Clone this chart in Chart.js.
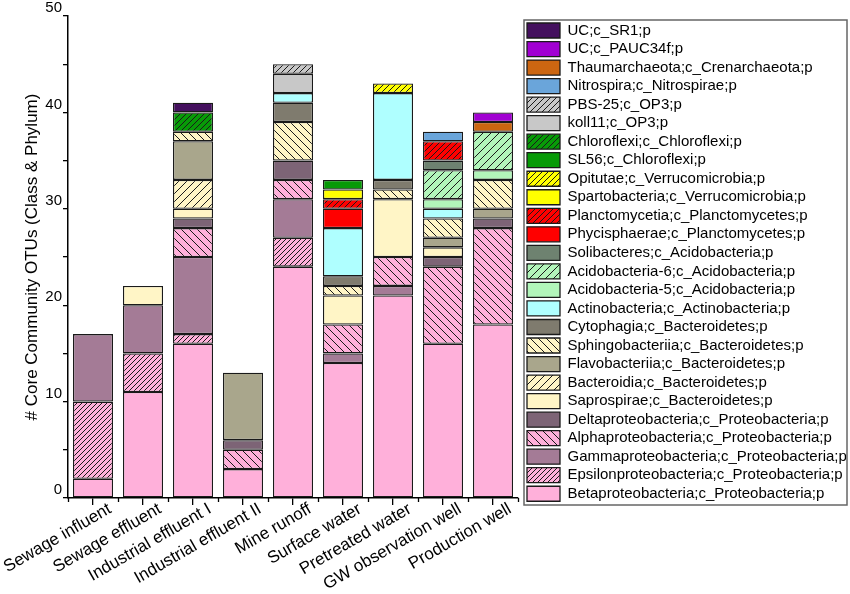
<!DOCTYPE html>
<html><head><meta charset="utf-8">
<script src="https://cdn.jsdelivr.net/npm/chart.js@4.4.1/dist/chart.umd.min.js"></script>
<style>html,body{margin:0;padding:0;background:#fff;} #wrap{width:850px;height:594px;}</style>
</head><body><div id="wrap"><canvas id="c" width="850" height="594"></canvas></div>
<script>
// ---- DATA ----
const categories = ['Sewage influent','Sewage effluent','Industrial effluent I','Industrial effluent II','Mine runoff','Surface water','Pretreated water','GW observation well','Production well'];
const yTickLabels = [0, 10, 20, 30, 40, 50];

const betaproteobacteria  = [2, 11, 16, 3, 24, 14, 21, 16, 18];
const epsilonproteobacteria = [8, 4, 1, 0, 3, 0, 0, 0, 0];
const gammaproteobacteria = [7, 5, 8, 0, 4, 1, 1, 0, 0];
const alphaproteobacteria = [0, 0, 3, 2, 2, 3, 3, 8, 10];
const deltaproteobacteria = [0, 0, 1, 1, 2, 0, 0, 1, 1];
const saprospirae   = [0, 2, 1, 0, 0, 3, 6, 1, 0];
const bacteroidia   = [0, 0, 3, 0, 0, 0, 0, 0, 0];
const flavobacteriia = [0, 0, 4, 7, 0, 0, 0, 1, 1];
const sphingobacteriia = [0, 0, 1, 0, 4, 1, 1, 2, 3];
const cytophagia    = [0, 0, 0, 0, 2, 1, 1, 0, 0];
const actinobacteria = [0, 0, 0, 0, 1, 5, 9, 1, 0];
const acidobacteria5 = [0, 0, 0, 0, 0, 0, 0, 1, 1];
const acidobacteria6 = [0, 0, 0, 0, 0, 0, 0, 3, 4];
const solibacteres  = [0, 0, 0, 0, 0, 0, 0, 1, 0];
const phycisphaerae = [0, 0, 0, 0, 0, 2, 0, 0, 0];
const planctomycetia = [0, 0, 0, 0, 0, 1, 0, 2, 0];
const spartobacteria = [0, 0, 0, 0, 0, 1, 0, 0, 0];
const opitutae      = [0, 0, 0, 0, 0, 0, 1, 0, 0];
const sl56          = [0, 0, 0, 0, 0, 1, 0, 0, 0];
const chloroflexi   = [0, 0, 2, 0, 0, 0, 0, 0, 0];
const koll11        = [0, 0, 0, 0, 2, 0, 0, 0, 0];
const pbs25         = [0, 0, 0, 0, 1, 0, 0, 0, 0];
const nitrospira    = [0, 0, 0, 0, 0, 0, 0, 1, 0];
const thaumarchaeota = [0, 0, 0, 0, 0, 0, 0, 0, 1];
const pauc34f       = [0, 0, 0, 0, 0, 0, 0, 0, 1];
const sr1           = [0, 0, 1, 0, 0, 0, 0, 0, 0];

// bottom -> top stacking order
const seriesLabels = [
 'Betaproteobacteria;c_Proteobacteria;p','Epsilonproteobacteria;c_Proteobacteria;p','Gammaproteobacteria;c_Proteobacteria;p',
 'Alphaproteobacteria;c_Proteobacteria;p','Deltaproteobacteria;c_Proteobacteria;p','Saprospirae;c_Bacteroidetes;p',
 'Bacteroidia;c_Bacteroidetes;p','Flavobacteriia;c_Bacteroidetes;p','Sphingobacteriia;c_Bacteroidetes;p',
 'Cytophagia;c_Bacteroidetes;p','Actinobacteria;c_Actinobacteria;p','Acidobacteria-5;c_Acidobacteria;p',
 'Acidobacteria-6;c_Acidobacteria;p','Solibacteres;c_Acidobacteria;p','Phycisphaerae;c_Planctomycetes;p',
 'Planctomycetia;c_Planctomycetes;p','Spartobacteria;c_Verrucomicrobia;p','Opitutae;c_Verrucomicrobia;p',
 'SL56;c_Chloroflexi;p','Chloroflexi;c_Chloroflexi;p','koll11;c_OP3;p','PBS-25;c_OP3;p',
 'Nitrospira;c_Nitrospirae;p','Thaumarchaeota;c_Crenarchaeota;p','UC;c_PAUC34f;p','UC;c_SR1;p'];
const seriesValues = [betaproteobacteria, epsilonproteobacteria, gammaproteobacteria, alphaproteobacteria,
 deltaproteobacteria, saprospirae, bacteroidia, flavobacteriia, sphingobacteriia, cytophagia, actinobacteria,
 acidobacteria5, acidobacteria6, solibacteres, phycisphaerae, planctomycetia, spartobacteria, opitutae, sl56,
 chloroflexi, koll11, pbs25, nitrospira, thaumarchaeota, pauc34f, sr1];

// ---- STYLE ----
const PINK='#FFB0DA', CREAM='#FFF5C6', LGREEN='#B2F5BA', RED='#FF0000', YEL='#FFFF00', GRN='#079A07', GREY='#C8C8C8';
const seriesStyle = [
 {c:PINK}, {c:PINK,h:'/',g:5}, {c:'#A47B96'}, {c:PINK,h:'\\',g:8}, {c:'#7D6476'}, {c:CREAM},
 {c:CREAM,h:'/',g:8}, {c:'#A9A68C'}, {c:CREAM,h:'\\',g:8}, {c:'#7F7B6E'}, {c:'#AFFFFF'}, {c:LGREEN},
 {c:LGREEN,h:'/',g:8}, {c:'#6E8270'}, {c:RED}, {c:RED,h:'/',g:6}, {c:YEL}, {c:YEL,h:'/',g:6},
 {c:GRN}, {c:GRN,h:'/',g:6}, {c:GREY}, {c:GREY,h:'/',g:6}, {c:'#6AA5DA'}, {c:'#CC6611'}, {c:'#A100D2'}, {c:'#44105E'}];

function hatch(bg, dir, gap){
  const cv = document.createElement('canvas'); cv.width = gap; cv.height = gap;
  const x = cv.getContext('2d');
  x.fillStyle = bg; x.fillRect(0,0,gap,gap);
  x.strokeStyle = '#1a1a1a'; x.lineWidth = 1;
  x.beginPath();
  if (dir === '/') {
    x.moveTo(-1, gap+1); x.lineTo(gap+1, -1);
    x.moveTo(-1, 1); x.lineTo(1, -1);
    x.moveTo(gap-1, gap+1); x.lineTo(gap+1, gap-1);
  } else {
    x.moveTo(-1, -1); x.lineTo(gap+1, gap+1);
    x.moveTo(gap-1, -1); x.lineTo(gap+1, 1);
    x.moveTo(-1, gap-1); x.lineTo(1, gap+1);
  }
  x.stroke();
  return x.createPattern(cv, 'repeat');
}

const FONT = 'Liberation Sans, Arial, sans-serif';
const datasets = seriesLabels.map((lab, i) => ({
  label: lab,
  data: seriesValues[i].map(v => v === 0 ? null : v),
  backgroundColor: seriesStyle[i].h ? hatch(seriesStyle[i].c, seriesStyle[i].h, seriesStyle[i].g) : seriesStyle[i].c,
  borderColor: '#1a1a1a',
  borderWidth: 1.3,
  borderSkipped: false,
  barPercentage: 0.8,
  categoryPercentage: 1.0
}));

const LEG_BOX = {left: 524, top: 20, right: 847, bottom: 505};
const legendPlace = {
  id: 'legendPlace',
  afterLayout(chart){
    const lg = chart.legend; if (!lg) return;
    const pad = lg.options.labels.padding;
    const dx = 527 - (lg.left + pad), dy = 23 - (lg.top + pad);
    lg.left += dx; lg.right += dx; lg.top += dy; lg.bottom += dy;
  },
  afterDraw(chart){
    const ctx = chart.ctx;
    ctx.save();
    ctx.strokeStyle = '#666'; ctx.lineWidth = 1.5;
    ctx.strokeRect(LEG_BOX.left, LEG_BOX.top, LEG_BOX.right - LEG_BOX.left, LEG_BOX.bottom - LEG_BOX.top);
    // minor ticks on x axis between categories
    const xs = chart.scales.x, y0 = xs.top;
    ctx.strokeStyle = '#000'; ctx.lineWidth = 1.3;
    ctx.beginPath();
    for (let i = 0; i <= categories.length; i++) {
      const px = Math.round(xs.getPixelForValue(i - 0.5)) + 0.5;
      ctx.moveTo(px, y0); ctx.lineTo(px, y0 + 4);
    }
    ctx.stroke();
    ctx.restore();
  }
};

new Chart(document.getElementById('c'), {
  type: 'bar',
  data: { labels: categories, datasets },
  options: {
    responsive: false,
    animation: false,
    devicePixelRatio: 1,
    layout: { padding: { top: 16, left: 0, right: 0, bottom: 0 } },
    plugins: {
      legend: {
        position: 'right',
        align: 'start',
        reverse: true,
        maxWidth: 332,
        labels: {
          boxWidth: 33, boxHeight: 15, padding: 3.53,
          color: '#000',
          font: { family: FONT, size: 15 }
        }
      },
      tooltip: { enabled: false }
    },
    scales: {
      x: {
        stacked: true,
        offset: true,
        afterFit(s){ s.height = 96; s.paddingLeft = 0; s.paddingRight = 0; },
        grid: { display: true, drawOnChartArea: false, offset: false, tickLength: 7, color: '#000', lineWidth: 1.3 },
        border: { display: true, color: '#000', width: 1.5 },
        ticks: {
          autoSkip: false, minRotation: 30, maxRotation: 30, labelOffset: 17, padding: -6,
          color: '#000', font: { family: FONT, size: 17 }
        }
      },
      y: {
        stacked: true,
        min: 0, max: 50,
        afterFit(s){ s.width = 68; },
        grid: { display: true, drawOnChartArea: false, tickLength: 5, color: '#000', lineWidth: 1.3 },
        border: { display: true, color: '#000', width: 1.5 },
        ticks: {
          stepSize: 5, padding: 1, labelOffset: -8,
          color: '#000', font: { family: FONT, size: 15 },
          callback: v => yTickLabels.includes(v) ? String(v) : ''
        },
        title: {
          display: true, text: '# Core Community OTUs (Class & Phylum)',
          color: '#000', font: { family: FONT, size: 17 }, padding: { top: 22, bottom: 0 }
        }
      }
    }
  },
  plugins: [legendPlace]
});
</script>
</body></html>
